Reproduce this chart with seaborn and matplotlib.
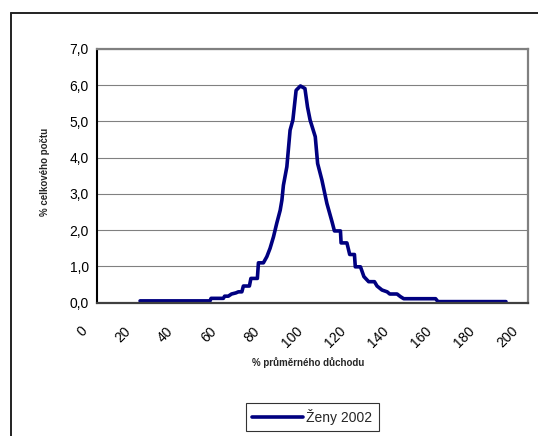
import numpy as np
import pandas as pd
import seaborn as sns
import matplotlib
matplotlib.use("Agg")
import matplotlib.pyplot as plt
from matplotlib.lines import Line2D
from matplotlib.transforms import ScaledTranslation

# Distribution of pensions: share of all pensioners (%) by pension level
# expressed as % of the average pension.
income_pct = [20, 52.5, 53, 58.7, 59.3, 61, 62.5, 64.5, 65.7, 67.3, 68, 70.8,
              71.5, 74.5, 75, 77.3, 78.9, 80.4, 82, 83.5, 85.1, 85.9, 86.6,
              88.2, 89.7, 91, 92.5, 94.5, 96.6, 97.8, 99.0, 101.4, 102.5,
              104.5, 106.8, 109.2, 110.3, 113.1, 113.4, 116.1, 117.4, 119.6,
              120, 122.4, 124, 126.2, 128.9, 130.1, 132.4, 134.8, 136, 139.4,
              140.9, 142.5, 157.3, 158.4, 190]
share_pct = [0.05, 0.05, 0.12, 0.12, 0.18, 0.18, 0.24, 0.27, 0.30, 0.30, 0.46,
             0.46, 0.67, 0.67, 1.10, 1.10, 1.27, 1.50, 1.82, 2.19, 2.55, 2.83,
             3.24, 3.75, 4.76, 5.04, 5.86, 5.98, 5.91, 5.40, 5.04, 4.58, 3.84,
             3.38, 2.74, 2.23, 1.98, 1.98, 1.65, 1.65, 1.33, 1.33, 0.99, 0.99,
             0.72, 0.58, 0.58, 0.46, 0.35, 0.30, 0.24, 0.24, 0.17, 0.11, 0.11,
             0.03, 0.03]
series_name = "Ženy 2002"

x_ticks = list(range(0, 201, 20))
y_ticks = list(range(0, 8))

df = pd.DataFrame({"x": income_pct, "y": share_pct})

sns.set_style("white")
plt.rcParams["font.family"] = ["Liberation Sans", "DejaVu Sans"]

W, H = 538, 436
fig = plt.figure(figsize=(W / 100, H / 100), dpi=100)
left, right, top, bottom = 97, 527.5, 49, 302.7
ax = fig.add_axes([left / W, 1 - bottom / H, (right - left) / W, (bottom - top) / H])

sns.lineplot(data=df, x="x", y="y", ax=ax, color="#000080", linewidth=2.6,
             estimator=None, sort=False, label=series_name)

ax.set_xlim(0, 200)
ax.set_ylim(0, 7)
ax.set_xticks(x_ticks)
ax.set_xticklabels([str(v) for v in x_ticks], rotation=45, ha="right",
                   va="center", rotation_mode="anchor", fontsize=10)
ax.set_yticks(y_ticks)
ax.set_yticklabels([f"{v:.1f}".replace(".", ",") for v in y_ticks], fontsize=10)

# grid and frame
ax.yaxis.grid(True, color="#808080", linewidth=0.8)
ax.xaxis.grid(False)
ax.set_axisbelow(True)
for side in ("top", "right"):
    ax.spines[side].set_color("#808080")
    ax.spines[side].set_linewidth(1.6)
ax.spines["left"].set_color("#000000")
ax.spines["left"].set_linewidth(1.5)
ax.spines["bottom"].set_color("#404040")
ax.spines["bottom"].set_linewidth(1.6)

ax.tick_params(axis="y", direction="out", length=3, width=1, color="#000000",
               pad=3, labelcolor="#000000")
ax.tick_params(axis="x", direction="out", length=3, width=1, color="#404040",
               pad=16, labelcolor="#000000")
shift = ScaledTranslation(-12 / 100, 0, fig.dpi_scale_trans)
for lbl in ax.get_xticklabels():
    lbl.set_transform(lbl.get_transform() + shift)

ax.set_xlabel("% průměrného důchodu", fontsize=7, fontweight="bold")
ax.set_ylabel("% celkového počtu", fontsize=7, fontweight="bold")
ax.xaxis.set_label_coords((308 - left) / (right - left), (bottom - 362.7) / (bottom - top))
ax.xaxis.label.set_va("center")
ax.yaxis.set_label_coords((45 - left) / (right - left), (bottom - 172) / (bottom - top))
ax.yaxis.label.set_va("center")

leg = ax.legend(loc="center", bbox_to_anchor=(312.2 / W, 1 - 416.9 / H),
                bbox_transform=fig.transFigure, frameon=True, fancybox=False,
                edgecolor="#000000", handlelength=3.7, handletextpad=0.2,
                borderpad=0.45, fontsize=10)
leg.get_frame().set_linewidth(0.8)
leg.get_lines()[0].set_linewidth(2.6)

# outer chart-area border (left and top edges visible)
fig.add_artist(Line2D([11 / W, 11 / W], [1 - 13 / H, -0.05], transform=fig.transFigure,
                      color="#222222", linewidth=1.4))
fig.add_artist(Line2D([11 / W, 1.05], [1 - 13 / H, 1 - 13 / H], transform=fig.transFigure,
                      color="#222222", linewidth=1.4))

fig.savefig("out.png", dpi=100, facecolor="white")
